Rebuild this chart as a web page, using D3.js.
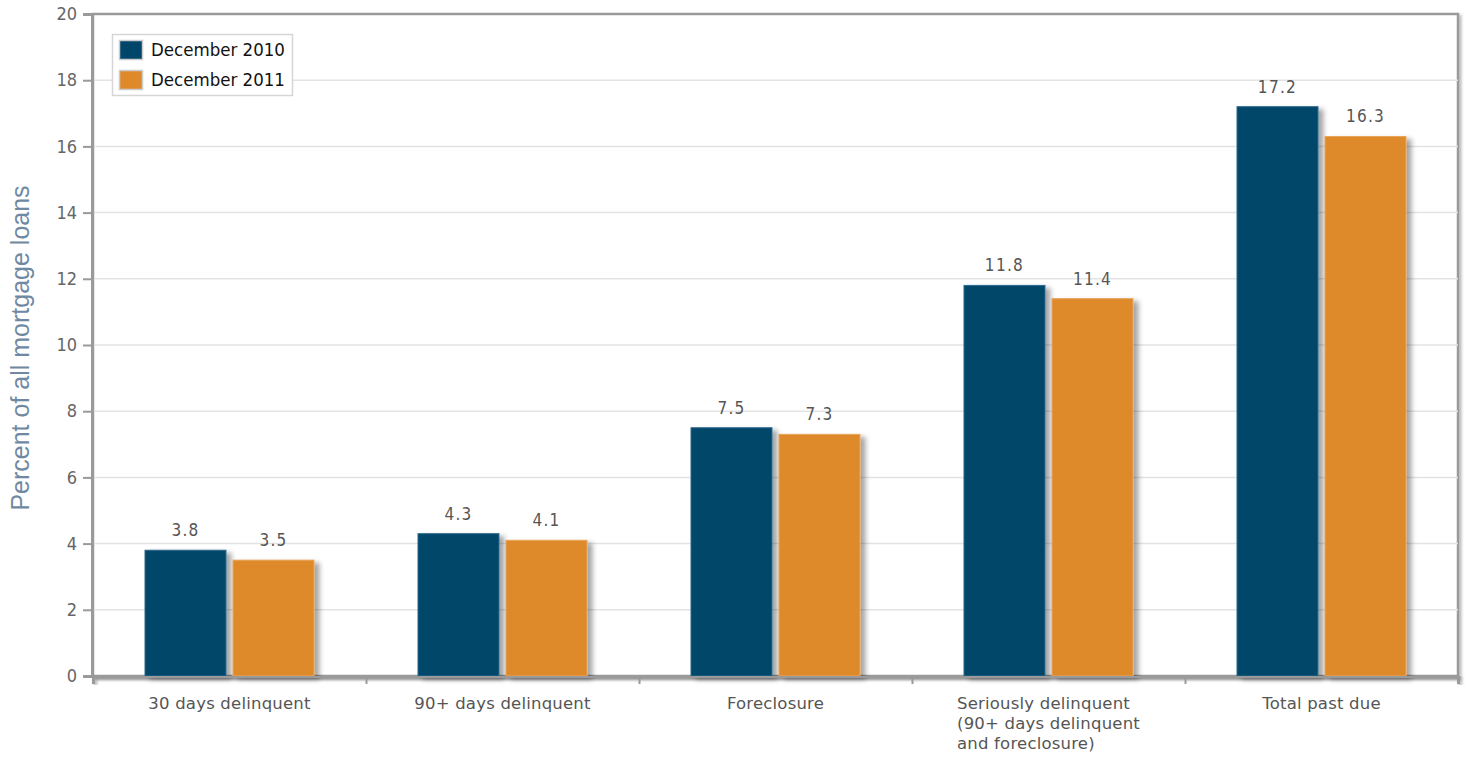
<!DOCTYPE html>
<html><head><meta charset="utf-8">
<script src="https://cdn.jsdelivr.net/npm/d3@7"></script>
<style>
html,body{margin:0;padding:0;background:#fff;}
svg{display:block;}
</style></head>
<body>
<svg id="chart" width="1471" height="763"></svg>
<script>
const categories = [
  ["30 days delinquent"],
  ["90+ days delinquent"],
  ["Foreclosure"],
  ["Seriously delinquent", "(90+ days delinquent", "and foreclosure)"],
  ["Total past due"]
];
const seriesNames = ["December 2010", "December 2011"];
const dec2010 = [3.8, 4.3, 7.5, 11.8, 17.2];
const dec2011 = [3.5, 4.1, 7.3, 11.4, 16.3];
const yTicks = [0, 2, 4, 6, 8, 10, 12, 14, 16, 18, 20];
const colors = ["#00466b", "#de8a2a"];
const strokes = ["#2d6a8e", "#e9a55a"];

(function(){
const svg = d3.select("#chart");
const FONT = "'DejaVu Sans Condensed','DejaVu Sans',sans-serif";
const FONT2 = "'DejaVu Sans',sans-serif";
const pL = 93, pR = 1458, pT = 14, pB = 676;

const defs = svg.append("defs");
const f = defs.append("filter").attr("id","sh").attr("x","-20%").attr("y","-20%").attr("width","150%").attr("height","150%");
f.append("feDropShadow").attr("dx",5).attr("dy",3).attr("stdDeviation",2.5).attr("flood-color","#000").attr("flood-opacity",0.35);
const f2 = defs.append("filter").attr("id","sh2").attr("x","-5%").attr("y","-5%").attr("width","110%").attr("height","110%");
f2.append("feDropShadow").attr("dx",2).attr("dy",2).attr("stdDeviation",1.5).attr("flood-color","#000").attr("flood-opacity",0.3);

const y = d3.scaleLinear().domain([0,20]).range([pB, pT]);
const x = d3.scaleBand().domain(d3.range(categories.length)).range([pL, pR]).paddingInner(0).paddingOuter(0);
const xs = d3.scaleBand().domain([0,1]).range([52, x.bandwidth()-52]).paddingInner(0.08).paddingOuter(0);

// frame
svg.append("rect").attr("x",pL).attr("y",pT).attr("width",pR-pL).attr("height",pB-pT)
  .attr("fill","#fff").attr("stroke","#9a9a9a").attr("stroke-width",2.5).attr("filter","url(#sh2)");

// grid
svg.append("g").selectAll("line").data(yTicks.filter(d=>d>0 && d<20)).join("line")
  .attr("x1",pL).attr("x2",pR).attr("y1",d=>y(d)).attr("y2",d=>y(d))
  .attr("stroke","#e3e3e3").attr("stroke-width",1.5);

// bars
const series = [dec2010, dec2011];
const gBars = svg.append("g");
categories.forEach((c,i)=>{
  series.forEach((s,j)=>{
    gBars.append("rect")
      .attr("x", x(i)+xs(j)).attr("y", y(s[i]))
      .attr("width", xs.bandwidth()).attr("height", y(0)-y(s[i]))
      .attr("fill", colors[j]).attr("stroke", strokes[j]).attr("stroke-width",1)
      .attr("filter","url(#sh)");
  });
});
// value labels
categories.forEach((c,i)=>{
  series.forEach((s,j)=>{
    svg.append("text")
      .attr("x", x(i)+xs(j)+xs.bandwidth()/2).attr("y", y(s[i])-14)
      .attr("text-anchor","middle").attr("font-family",FONT).attr("font-size",17)
      .attr("letter-spacing",1.3).attr("fill","#555").text(s[i].toFixed(1));
  });
});

// y axis
const yAxis = d3.axisLeft(y).tickValues(yTicks).tickSize(9).tickPadding(6).tickFormat(d3.format("d"));
const gy = svg.append("g").attr("transform",`translate(${pL-1},0)`).call(yAxis);
gy.select(".domain").attr("stroke","#9a9a9a").attr("stroke-width",3);
gy.selectAll(".tick line").attr("stroke","#9a9a9a").attr("stroke-width",2);
gy.selectAll(".tick text").attr("font-family",FONT).attr("font-size",18).attr("fill","#666");

// x axis
const xAxis = d3.axisBottom(d3.scaleLinear().domain([0,5]).range([pL,pR])).tickValues([0,1,2,3,4,5]).tickSize(8).tickFormat("");
const gx = svg.append("g").attr("transform",`translate(0,${pB})`).call(xAxis);
gx.select(".domain").attr("stroke","#9a9a9a").attr("stroke-width",3).attr("filter","url(#sh2)");
gx.selectAll(".tick line").attr("stroke","#9a9a9a").attr("stroke-width",2);

// category labels (multi-line blocks: left-aligned, centred on the longest line)
categories.forEach((lines,i)=>{
  const cx = x(i)+x.bandwidth()/2;
  const t = svg.append("text").attr("font-family",FONT2).attr("font-size",16.5)
    .attr("letter-spacing",0.2).attr("fill","#555");
  if (lines.length===1){
    t.attr("x",cx).attr("y",709).attr("text-anchor","middle").text(lines[0]);
  } else {
    t.attr("text-anchor","start");
    const spans = lines.map((l,k)=>t.append("tspan").attr("y",709+k*20).text(l));
    const w = d3.max(spans, s=>s.node().getComputedTextLength());
    spans.forEach(s=>s.attr("x", cx - w/2));
  }
});

// y title
svg.append("text").attr("transform",`translate(29,${(pT+pB)/2+3}) rotate(-90)`)
  .attr("text-anchor","middle").attr("font-family","'Liberation Sans',Arial,sans-serif")
  .attr("font-size",25).attr("fill","#7089a3").text("Percent of all mortgage loans");

// legend
const lg = svg.append("g");
lg.append("rect").attr("x",112.5).attr("y",34.5).attr("width",180).attr("height",61)
  .attr("fill","#fff").attr("stroke","#d6d6d6").attr("stroke-width",1.5);
seriesNames.forEach((n,j)=>{
  lg.append("rect").attr("x",119.5).attr("y",40.5+j*30).attr("width",23).attr("height",19)
    .attr("fill",colors[j]).attr("stroke","#ccc").attr("stroke-width",1.5);
  lg.append("text").attr("x",151).attr("y",56+j*30).attr("font-family",FONT)
    .attr("font-size",18.5).attr("fill","#111").text(n);
});
})();
</script>
</body></html>
